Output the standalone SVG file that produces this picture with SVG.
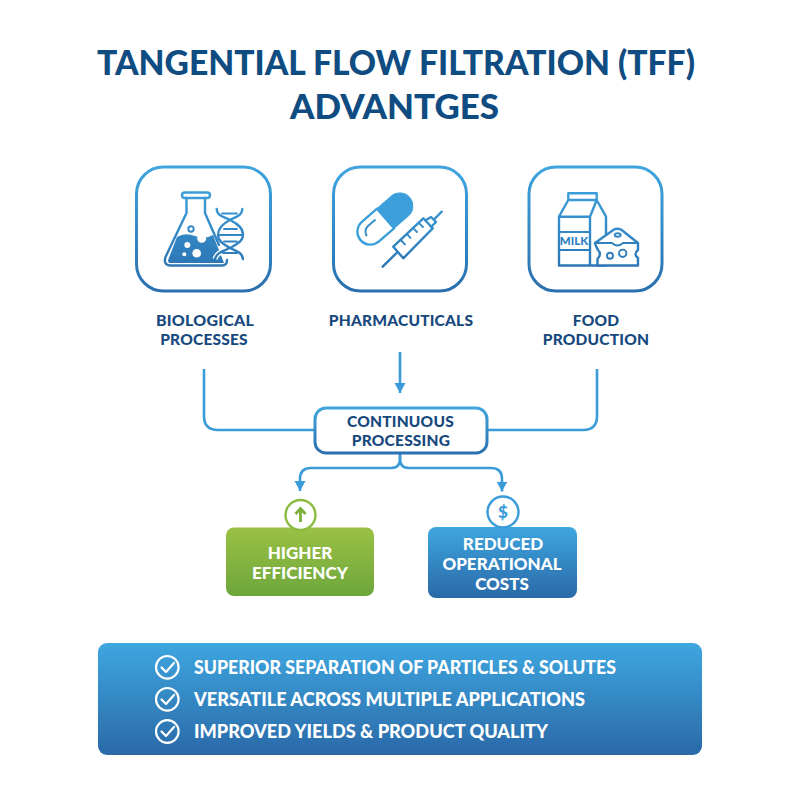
<svg xmlns="http://www.w3.org/2000/svg" width="800" height="800" viewBox="0 0 800 800">
<defs>
<linearGradient id="line" x1="0" y1="0" x2="0" y2="1"><stop offset="0" stop-color="#3fa5de"/><stop offset="1" stop-color="#2a6fae"/></linearGradient>
<linearGradient id="blue" x1="0" y1="0" x2="0" y2="1"><stop offset="0" stop-color="#3ea6df"/><stop offset="1" stop-color="#2a69a8"/></linearGradient>
<linearGradient id="green" x1="0" y1="0" x2="0" y2="1"><stop offset="0" stop-color="#9ac144"/><stop offset="1" stop-color="#6ea63c"/></linearGradient>
<linearGradient id="ic" gradientUnits="userSpaceOnUse" x1="0" y1="190" x2="0" y2="270"><stop offset="0" stop-color="#3b9fdb"/><stop offset="1" stop-color="#2c74b3"/></linearGradient>
<marker id="arrow" markerUnits="userSpaceOnUse" markerWidth="12" markerHeight="12" refX="10" refY="6" orient="auto"><path d="M0 .5L10 6L0 11.500Z" fill="#3a9bd9"/></marker>
</defs>
<style>
text{font-family:"Lato","Liberation Sans",sans-serif;font-weight:900;text-anchor:middle}
.title{font-size:34.500px;fill:#0f4c81}
.lab{font-size:15.500px;fill:#17497e;letter-spacing:.2px}
.wh{font-size:17px;fill:#fff}
.ls{font-size:18.500px;fill:#fff;text-anchor:start}
.box{fill:#fff;stroke:url(#line);stroke-width:3}
.ic{fill:none;stroke:url(#ic);stroke-width:2.400;stroke-linejoin:round;stroke-linecap:round}
.thin{stroke-width:1.900}
.con{fill:none;stroke:#3a9bd9;stroke-width:2.600}
.chk{fill:none;stroke:#fff;stroke-width:2.200;stroke-linecap:round;stroke-linejoin:round}
.halo{fill:none;stroke:#fff;stroke-width:5}
</style>
<rect width="800" height="800" fill="#fff"/>
<text class="title" x="396" y="75" textLength="598" lengthAdjust="spacingAndGlyphs">TANGENTIAL FLOW FILTRATION (TFF)</text>
<text class="title" x="394.500" y="118.500" textLength="209" lengthAdjust="spacingAndGlyphs">ADVANTGES</text>

<g id="connectors">
<path class="con" d="M204 369V416Q204 430 218 430H316"/>
<path class="con" d="M597 369V416Q597 430 583 430H486"/>
<path class="con" d="M400 352V393" marker-end="url(#arrow)"/>
<path class="con" d="M400 453V459Q400 468 391 468H311Q300 468 300 479V491" marker-end="url(#arrow)"/>
<path class="con" d="M400 453V459Q400 468 409 468H491Q502 468 502 479V491.500" marker-end="url(#arrow)"/>
</g>

<g id="biological">
<rect class="box" x="136.500" y="167" width="134" height="124" rx="27"/>
<path d="M177 237Q185 232 195 236Q204 240 213 235L224 263H171Q167 263 168.500 259Z" fill="url(#ic)"/>
<path class="ic" d="M186.500 198V213L165.500 257Q163 265.500 171 265.500H222Q227 265.500 227 260"/>
<path class="ic" d="M205 198V213L219 245"/>
<rect class="ic" x="182" y="192.500" width="28" height="5.500" rx="2.700"/>
<circle cx="201.700" cy="238.300" r="4.500" fill="#fff"/><circle cx="187.300" cy="245" r="3" fill="#fff"/><circle cx="184.300" cy="254.300" r="2" fill="#fff"/><circle cx="196.700" cy="253.300" r="4.300" fill="#fff"/>
<circle class="ic thin" cx="191" cy="229" r="2.700"/>
<path class="halo" d="M230 248C224 251 217 252 215 259"/>
<path class="ic" d="M216.700 209C217 217 226 217 230 220C238 224 243 228 243 235C243 242 235 245 230 248C224 251 217 252 215 259"/>
<path class="ic" d="M242.300 209C242 217 234 217 230 220C222 224 218 228 218 235C218 242 225 245 230 248C236 251 242 252 243 259"/>
<path class="ic thin" d="M222 213.500H237M224 229H237M219 235H242M224 241.500H237M223 253H237"/>
</g>

<g id="pharmaceuticals">
<rect class="box" x="333.500" y="167" width="133" height="124" rx="27"/>
<g transform="translate(385.500,218.500) rotate(-41)">
<path d="M0 -13H19A13 13 0 0 1 19 13H0Z" fill="url(#ic)" stroke="url(#ic)" stroke-width="1"/>
<path class="ic" d="M0 -13H-20A13 13 0 0 0 -20 13H0Z"/>
</g>
<path class="ic thin" d="M375 220L368 226Q364 230 366.500 235.500"/>
<path class="ic" d="M393.300 246.700L403.300 258.300L432.700 228.300L423.300 218.300ZM382.700 266.700L397 252.500M426 220L431 217L436 222L431 227M434 219.500L441.700 211.700"/>
<path class="ic thin" d="M400.700 240L405 244.300M407.300 234.300L410.500 238M413.300 228.300L417 232M419.300 223.300L423 227"/>
</g>

<g id="food">
<rect class="box" x="529" y="167" width="133" height="124" rx="27"/>
<path class="ic" d="M568.300 193.300H596.700V200H568.300ZM568.300 200L559 216.700V265.500H606V216.700L596.700 200M559 216.700H590M590 216.700V265.500M590 216.700L596.700 200"/>
<path class="ic thin" d="M559 232H590M559 250H590"/>
<text x="574" y="244.500" font-size="11.500" style="fill:#2f80bf">MILK</text>
<path class="ic" style="fill:#fff" d="M595 243L614 229.500Q617 228 621 229.500L638 243V250Q633 254 638 258V265.500H597.500V259Q602 254 598 250Q596 247 595 243Z"/>
<path class="ic thin" d="M595 243H612Q617.500 248 623 243H638"/>
<ellipse class="ic thin" cx="617.700" cy="235" rx="3" ry="1.700"/>
<circle class="ic thin" cx="610" cy="255.700" r="3"/><circle class="ic thin" cx="622.700" cy="253.300" r="3.700"/>
</g>

<g id="label-biological"><text class="lab" x="205" y="325.500" textLength="98" lengthAdjust="spacingAndGlyphs">BIOLOGICAL</text><text class="lab" x="204" y="344.500">PROCESSES</text></g>
<g id="label-pharma"><text class="lab" x="401" y="325.500">PHARMACUTICALS</text></g>
<g id="label-food"><text class="lab" x="596" y="325.500">FOOD</text><text class="lab" x="596" y="344.500">PRODUCTION</text></g>

<g id="continuous">
<rect x="315" y="408" width="172" height="45" rx="11" class="box"/>
<text class="lab" x="400.500" y="427">CONTINUOUS</text><text class="lab" x="401" y="446">PROCESSING</text>
</g>

<g id="higher">
<rect x="226" y="527.500" width="148" height="68.500" rx="8" fill="url(#green)"/>
<circle cx="300.500" cy="515" r="15" fill="#fff" stroke="#8cbc3f" stroke-width="2.400"/>
<path d="M300.500 522V510M295.500 514L300.500 508.500L305.500 514" fill="none" stroke="#7cb03c" stroke-width="2.800"/>
<text class="wh" x="300" y="559">HIGHER</text><text class="wh" x="300" y="579">EFFICIENCY</text>
</g>

<g id="reduced">
<rect x="428" y="527" width="149" height="71" rx="8" fill="url(#blue)"/>
<circle cx="503" cy="512" r="15.500" fill="#fff" stroke="#3a9bd9" stroke-width="2.400"/>
<text x="503" y="518" font-size="17" style="fill:#3a9bd9">$</text>
<text class="wh" x="503" y="549.500">REDUCED</text><text class="wh" x="502" y="569.500">OPERATIONAL</text><text class="wh" x="502" y="589.500">COSTS</text>
</g>

<g id="benefits">
<rect x="98" y="643" width="604" height="112" rx="9" fill="url(#blue)"/>
<circle class="chk" cx="167.300" cy="667.300" r="11.300"/><path class="chk" d="M161.500 667.500L166 672L174 663"/>
<circle class="chk" cx="167.300" cy="699.300" r="11.300"/><path class="chk" d="M161.500 699.500L166 704L174 695"/>
<circle class="chk" cx="167.300" cy="731.500" r="11.300"/><path class="chk" d="M161.500 731.500L166 736L174 727"/>
<text class="ls" x="194" y="674.300" textLength="422" lengthAdjust="spacingAndGlyphs">SUPERIOR SEPARATION OF PARTICLES &amp; SOLUTES</text>
<text class="ls" x="194" y="706" textLength="391" lengthAdjust="spacingAndGlyphs">VERSATILE ACROSS MULTIPLE APPLICATIONS</text>
<text class="ls" x="194" y="737.700" textLength="354" lengthAdjust="spacingAndGlyphs">IMPROVED YIELDS &amp; PRODUCT QUALITY</text>
</g>
</svg>
